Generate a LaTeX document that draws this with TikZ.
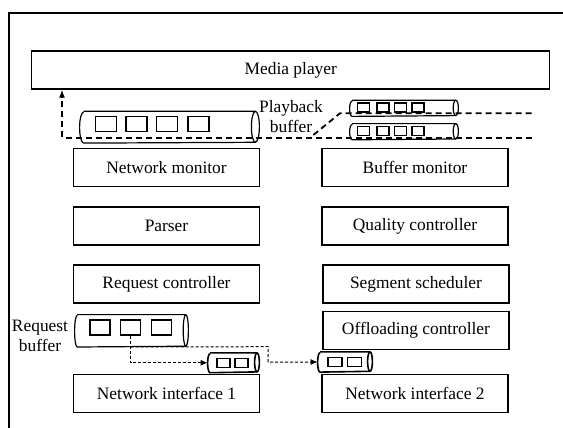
\documentclass[tikz,border=0pt]{standalone}
\usepackage{fontspec}
\setmainfont{Liberation Serif}
\usetikzlibrary{arrows.meta}

\tikzset{
  module/.style={draw, line width=0.6pt, minimum width=93pt, minimum height=19pt, inner sep=0pt},
  buffer/.style={inner sep=0pt},
  bufline/.style={line width=0.6pt},
  slot/.style={draw, line width=0.6pt, inner sep=0pt},
  playflow/.style={line width=0.9pt, dash pattern=on 3pt off 2pt},
  reqflow/.style={line width=0.5pt, dash pattern=on 1.5pt off 1pt, -{Latex[length=3.5pt,width=3pt]}}
}

% outline of a lying cylinder round a node: name, x radius, half height
\newcommand{\bufferoutline}[4][]{%
  \draw[bufline, #1] ([xshift=#3]#2.north west) -- ([xshift=-#3]#2.north east)
      arc[start angle=90, end angle=-90, x radius=#3, y radius=#4]
      -- ([xshift=#3]#2.south west)
      arc[start angle=270, end angle=90, x radius=#3, y radius=#4];
  \draw[bufline, #1] ([xshift=-#3]#2.north east)
      arc[start angle=90, end angle=270, x radius=#3, y radius=#4];
}

\begin{document}
\begin{tikzpicture}[x=0.5pt, y=-0.5pt, font=\fontsize{8.7}{10}\selectfont]
    \useasboundingbox (0,0) rectangle (563,428);
    % Frame
    \draw[line width=1pt] (9,428) -- (9,12.5) -- (563,12.5);

    % Draw nodes
    \node[module, minimum width=259pt] (player) at (290.8,70) {Media player};
    \node[module] (netmon) at (166.5,167.5) {Network monitor};
    \node[module] (parser) at (166.5,226) {Parser};
    \node[module] (reqctl) at (166.5,284) {Request controller};
    \node[module] (netif1) at (166.5,393.5) {Network interface 1};
    \node[module] (bufmon) at (415,167.5) {Buffer monitor};
    \node[module] (quality) at (415,226) {Quality controller};
    \node[module] (segsched) at (416,284) {Segment scheduler};
    \node[module] (offload) at (416,330.6) {Offloading controller};
    \node[module] (netif2) at (415,393.5) {Network interface 2};

    % Buffers
    \node[buffer, minimum width=89.5pt, minimum height=15.5pt] (playL) at (169.5,127.2) {};
    \node[buffer, minimum width=54pt, minimum height=7.7pt] (playA) at (404,108.3) {};
    \node[buffer, minimum width=54pt, minimum height=7.7pt] (playB) at (404,131.7) {};
    \node[buffer, minimum width=56.5pt, minimum height=15.8pt] (reqbuf) at (131.5,330.8) {};
    \node[buffer, minimum width=25.5pt, minimum height=9.5pt] (sendA) at (233.5,362.8) {};
    \node[buffer, minimum width=27pt, minimum height=9.7pt] (sendB) at (345,362) {};
    \bufferoutline{playL}{2pt}{7.75pt}
    \bufferoutline{playA}{1.3pt}{3.85pt}
    \bufferoutline{playB}{1.3pt}{3.85pt}
    \bufferoutline{reqbuf}{1.3pt}{7.9pt}
    \bufferoutline[line width=0.8pt]{sendA}{1.2pt}{4.75pt}
    \bufferoutline[line width=0.8pt]{sendB}{1.2pt}{4.85pt}

    % Segments
    \foreach \x [count=\i] in {106,136.5,167,198.5}
        \node[slot, minimum width=10.5pt, minimum height=7.5pt] (pl\i) at (\x,123.8) {};
    \foreach \x [count=\i] in {363.5,383,400.5,418} {
        \node[slot, minimum width=6pt, minimum height=4.5pt] (pa\i) at (\x,107.5) {};
        \node[slot, minimum width=6pt, minimum height=4.5pt] (pb\i) at (\x,131) {};
    }
    \foreach \x [count=\i] in {100,130.5,161.7}
        \node[slot, minimum width=10pt, minimum height=7.5pt] (rq\i) at (\x,327.5) {};
    \foreach \x [count=\i] in {223.5,241.5}
        \node[slot, minimum width=6.5pt, minimum height=4.5pt] (sa\i) at (\x,362.8) {};
    \foreach \x [count=\i] in {335,354.5}
        \node[slot, minimum width=7pt, minimum height=4.5pt] (sb\i) at (\x,362) {};

    % Labels
    \node[align=center] (playlbl) at (291,117) {Playback\\buffer};
    \node[align=center] (reqlbl) at (40,336) {Request\\buffer};

    % Draw connections
    \coordinate (inA) at (531.7,113.3);
    \coordinate (inB) at (531.7,137.7);
    \coordinate (joinA) at (340,113.3);
    \coordinate (joinB) at (310,137.7);
    \coordinate (turn) at (62,137.7);
    \draw[playflow, -{Latex[length=4pt,width=3pt]}] (inB) -- (turn) -- (turn |- player.south);
    \draw[playflow] (inA) -- (joinA) -- (joinB);

    \coordinate (fork) at (rq2.south |- reqbuf.south);
    \coordinate (bend) at (268,346.7);
    \draw[reqflow] (rq2.south) -- (rq2.south |- sendA.west) -- (sendA.west);
    \draw[reqflow] (fork) -- (bend) -- (bend |- sendB.west) -- (sendB.west);
\end{tikzpicture}
\end{document}
